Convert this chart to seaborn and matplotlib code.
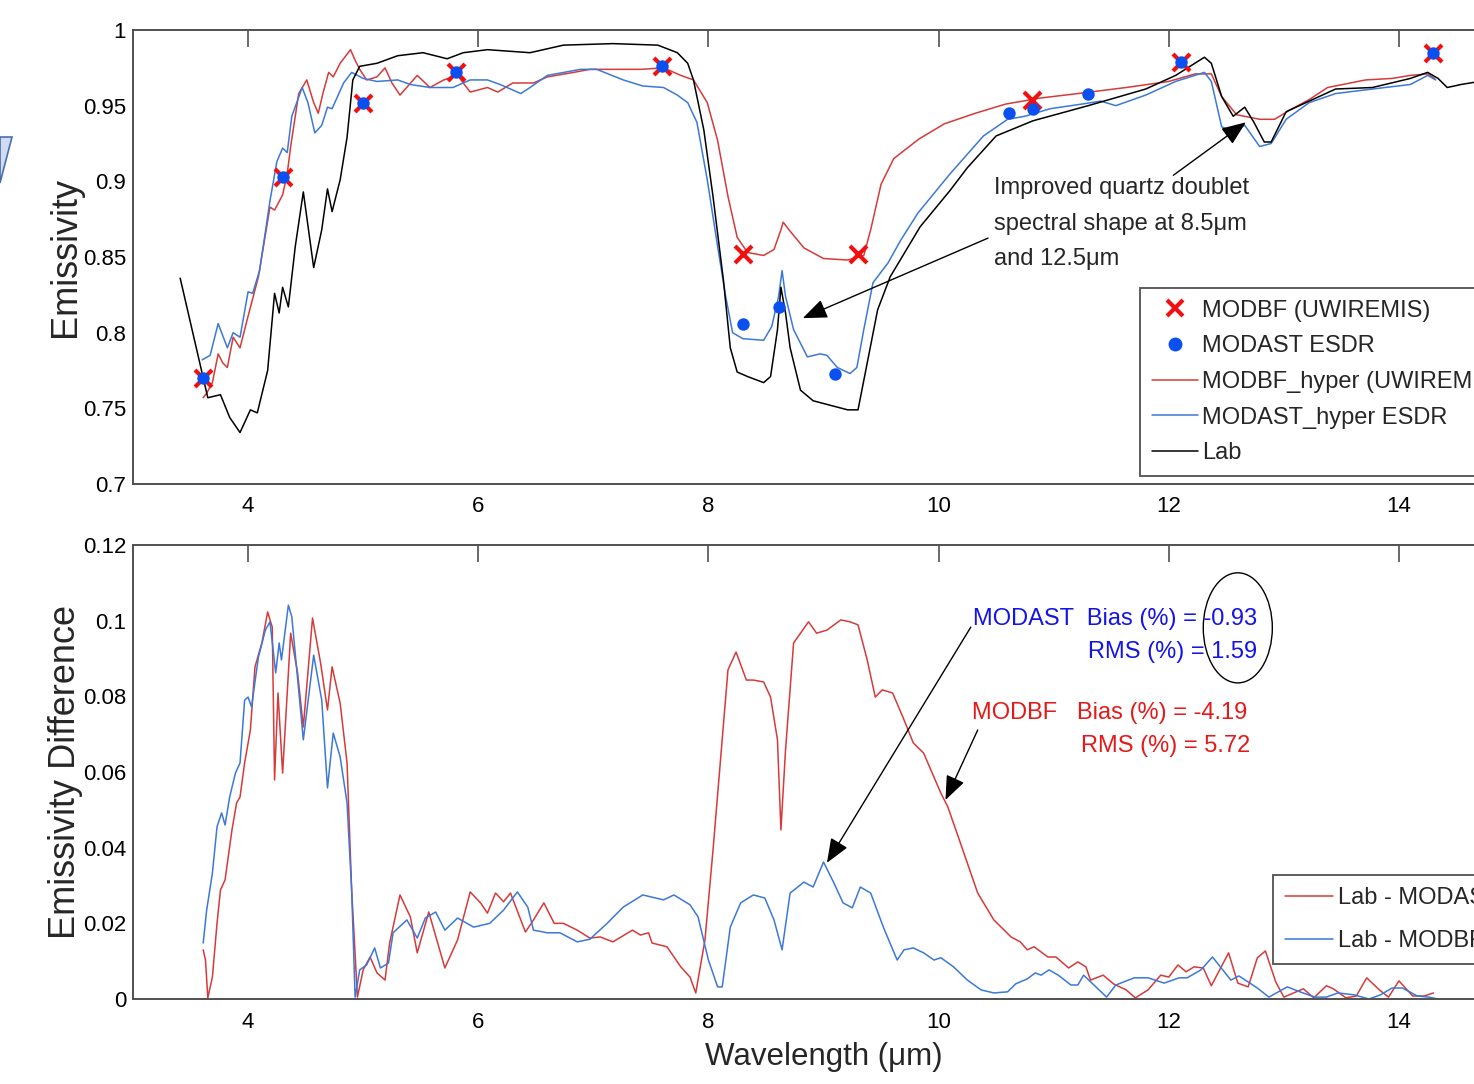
#!/usr/bin/env python3
"""Lab vs MODIS-derived hyperspectral emissivity, with the emissivity differences below."""

import matplotlib
matplotlib.use("Agg")
import matplotlib.pyplot as plt
import seaborn as sns
from matplotlib import font_manager
from matplotlib.lines import Line2D
from matplotlib.patches import Ellipse, Polygon

# ---- data -------------------------------------------------------------------
LAB_WL = [3.41, 3.65, 3.76, 3.84, 3.93, 4.02, 4.08, 4.17, 4.23, 4.27, 4.30, 4.35, 4.41,
          4.48, 4.57, 4.64, 4.69, 4.73, 4.80, 4.86, 4.91, 4.97, 5.12, 5.30, 5.52, 5.73,
          5.87, 6.08, 6.45, 6.74, 7.17, 7.56, 7.73, 7.82, 7.87, 7.96, 8.04, 8.13, 8.19,
          8.25, 8.34, 8.48, 8.54, 8.60, 8.63, 8.67, 8.71, 8.80, 8.91, 9.06, 9.21, 9.30,
          9.38, 9.47, 9.58, 9.84, 10.10, 10.25, 10.50, 10.82, 11.30, 11.80, 12.06, 12.31,
          12.37, 12.46, 12.56, 12.66, 12.74, 12.83, 12.89, 13.02, 13.22, 13.45, 13.77,
          14.10, 14.25, 14.34, 14.42, 14.54, 14.70]
LAB_EMIS = [0.836, 0.757, 0.759, 0.744, 0.734, 0.749, 0.747, 0.775, 0.826, 0.813, 0.830,
            0.817, 0.857, 0.893, 0.843, 0.868, 0.895, 0.880, 0.901, 0.929, 0.967, 0.976,
            0.978, 0.983, 0.985, 0.981, 0.985, 0.987, 0.985, 0.990, 0.991, 0.990, 0.985,
            0.978, 0.967, 0.934, 0.890, 0.835, 0.790, 0.774, 0.771, 0.767, 0.771, 0.802,
            0.830, 0.813, 0.790, 0.762, 0.755, 0.752, 0.749, 0.749, 0.780, 0.815, 0.837,
            0.870, 0.894, 0.909, 0.930, 0.940, 0.950, 0.961, 0.970, 0.982, 0.978, 0.956,
            0.943, 0.949, 0.939, 0.926, 0.926, 0.946, 0.953, 0.961, 0.962, 0.968, 0.972,
            0.968, 0.962, 0.964, 0.966]

MODBF_HYPER_WL = [3.61, 3.64, 3.69, 3.74, 3.78, 3.82, 3.87, 3.93, 3.99, 4.09, 4.19, 4.23,
                  4.30, 4.34, 4.37, 4.44, 4.51, 4.57, 4.61, 4.65, 4.70, 4.74, 4.80, 4.89,
                  4.93, 4.97, 5.03, 5.12, 5.19, 5.25, 5.32, 5.47, 5.58, 5.70, 5.82, 5.93,
                  6.08, 6.17, 6.30, 6.48, 6.60, 6.83, 6.97, 7.17, 7.41, 7.61, 7.76, 7.87,
                  7.99, 8.08, 8.17, 8.25, 8.34, 8.48, 8.57, 8.63, 8.65, 8.70, 8.83, 9.00,
                  9.21, 9.35, 9.41, 9.50, 9.61, 9.83, 10.05, 10.32, 10.58, 10.88, 11.21,
                  11.63, 12.00, 12.23, 12.37, 12.46, 12.59, 12.79, 12.92, 13.05, 13.22,
                  13.38, 13.71, 13.94, 14.10, 14.25, 14.31]
MODBF_HYPER_EMIS = [0.757, 0.760, 0.767, 0.786, 0.780, 0.777, 0.797, 0.790, 0.808, 0.837,
                    0.883, 0.881, 0.891, 0.905, 0.923, 0.958, 0.967, 0.952, 0.945, 0.958,
                    0.972, 0.969, 0.978, 0.987, 0.980, 0.974, 0.967, 0.969, 0.975, 0.965,
                    0.957, 0.970, 0.962, 0.967, 0.970, 0.959, 0.962, 0.959, 0.965, 0.965,
                    0.969, 0.972, 0.974, 0.974, 0.974, 0.975, 0.970, 0.967, 0.952, 0.927,
                    0.890, 0.863, 0.853, 0.851, 0.855, 0.868, 0.873, 0.868, 0.856, 0.849,
                    0.848, 0.851, 0.868, 0.898, 0.915, 0.928, 0.938, 0.945, 0.951, 0.955,
                    0.958, 0.962, 0.966, 0.971, 0.971, 0.956, 0.944, 0.941, 0.941, 0.947,
                    0.954, 0.962, 0.967, 0.968, 0.970, 0.971, 0.968]

MODAST_HYPER_WL = [3.60, 3.67, 3.74, 3.82, 3.87, 3.93, 4.00, 4.04, 4.10, 4.19, 4.25, 4.30,
                   4.34, 4.38, 4.47, 4.52, 4.58, 4.64, 4.69, 4.73, 4.83, 4.90, 5.00, 5.12,
                   5.30, 5.41, 5.58, 5.78, 5.93, 6.08, 6.19, 6.37, 6.45, 6.60, 6.89, 7.03,
                   7.26, 7.43, 7.61, 7.73, 7.82, 7.90, 7.99, 8.08, 8.15, 8.21, 8.30, 8.48,
                   8.55, 8.61, 8.64, 8.67, 8.74, 8.86, 8.97, 9.03, 9.12, 9.23, 9.29, 9.35,
                   9.43, 9.56, 9.67, 9.82, 10.10, 10.39, 10.60, 10.75, 10.97, 11.24, 11.41,
                   11.54, 11.80, 12.06, 12.31, 12.37, 12.46, 12.56, 12.66, 12.79, 12.89,
                   13.02, 13.22, 13.45, 13.77, 14.10, 14.25, 14.32]
MODAST_HYPER_EMIS = [0.782, 0.785, 0.806, 0.790, 0.800, 0.797, 0.827, 0.826, 0.841, 0.887,
                     0.913, 0.922, 0.919, 0.943, 0.962, 0.952, 0.932, 0.937, 0.949, 0.948,
                     0.965, 0.972, 0.968, 0.966, 0.967, 0.964, 0.962, 0.962, 0.967, 0.967,
                     0.964, 0.958, 0.962, 0.970, 0.974, 0.974, 0.967, 0.963, 0.962, 0.957,
                     0.952, 0.939, 0.901, 0.857, 0.824, 0.800, 0.796, 0.795, 0.804, 0.824,
                     0.841, 0.824, 0.802, 0.784, 0.786, 0.785, 0.777, 0.773, 0.777, 0.802,
                     0.833, 0.846, 0.861, 0.879, 0.905, 0.930, 0.941, 0.943, 0.948, 0.951,
                     0.953, 0.950, 0.957, 0.966, 0.972, 0.966, 0.936, 0.933, 0.937, 0.923,
                     0.925, 0.941, 0.952, 0.958, 0.961, 0.964, 0.970, 0.967]

MODBF_WL = [3.61, 4.30, 5.00, 5.81, 7.60, 8.30, 9.30, 10.81, 12.11, 14.30]
MODBF_EMIS = [0.770, 0.903, 0.952, 0.972, 0.976, 0.852, 0.852, 0.954, 0.979, 0.985]
MODAST_WL = [3.61, 4.30, 5.00, 5.81, 7.60, 8.30, 8.61, 9.10, 10.61, 10.82, 11.30, 12.11, 14.30]
MODAST_EMIS = [0.770, 0.903, 0.952, 0.972, 0.976, 0.806, 0.817, 0.773, 0.945, 0.948, 0.958,
               0.979, 0.985]

DIFF_RED_WL = [3.61, 3.63, 3.65, 3.69, 3.73, 3.76, 3.80, 3.86, 3.90, 3.93, 3.97, 4.02, 4.06,
               4.12, 4.17, 4.21, 4.23, 4.26, 4.30, 4.37, 4.43, 4.48, 4.56, 4.63, 4.69, 4.73,
               4.80, 4.86, 4.90, 4.95, 5.00, 5.06, 5.12, 5.19, 5.23, 5.32, 5.41, 5.47, 5.57,
               5.64, 5.71, 5.82, 5.93, 6.02, 6.08, 6.15, 6.22, 6.28, 6.41, 6.48, 6.57, 6.66,
               6.74, 6.86, 6.97, 7.06, 7.17, 7.34, 7.41, 7.48, 7.51, 7.64, 7.76, 7.84, 7.89,
               7.97, 8.04, 8.10, 8.17, 8.24, 8.33, 8.39, 8.48, 8.54, 8.60, 8.63, 8.67, 8.74,
               8.87, 8.94, 9.03, 9.15, 9.23, 9.30, 9.38, 9.45, 9.51, 9.60, 9.69, 9.78, 9.87,
               10.02, 10.08, 10.19, 10.34, 10.48, 10.63, 10.71, 10.77, 10.83, 10.95, 11.02,
               11.13, 11.21, 11.28, 11.32, 11.43, 11.52, 11.63, 11.71, 11.82, 11.93, 12.00,
               12.08, 12.15, 12.22, 12.30, 12.37, 12.52, 12.60, 12.69, 12.77, 12.84, 12.93,
               13.00, 13.17, 13.26, 13.37, 13.43, 13.54, 13.63, 13.72, 13.83, 13.91, 14.00,
               14.12, 14.22, 14.30]
DIFF_RED = [0.0130, 0.0103, 0.0003, 0.0058, 0.0200, 0.0288, 0.0315, 0.0447, 0.0518, 0.0534,
            0.0624, 0.0711, 0.0878, 0.0941, 0.1023, 0.0983, 0.0579, 0.0809, 0.0597, 0.0967,
            0.0862, 0.0719, 0.1007, 0.0888, 0.0764, 0.0878, 0.0782, 0.0624, 0.0288, 0.0005,
            0.0077, 0.0111, 0.0069, 0.0050, 0.0148, 0.0275, 0.0217, 0.0122, 0.0230, 0.0156,
            0.0082, 0.0156, 0.0283, 0.0254, 0.0227, 0.0280, 0.0257, 0.0280, 0.0177, 0.0209,
            0.0254, 0.0200, 0.0200, 0.0182, 0.0161, 0.0164, 0.0151, 0.0182, 0.0169, 0.0175,
            0.0148, 0.0138, 0.0085, 0.0058, 0.0016, 0.0156, 0.0394, 0.0613, 0.0870, 0.0917,
            0.0843, 0.0843, 0.0838, 0.0798, 0.0685, 0.0447, 0.0658, 0.0941, 0.0997, 0.0967,
            0.0975, 0.1002, 0.0997, 0.0989, 0.0896, 0.0798, 0.0817, 0.0809, 0.0745, 0.0677,
            0.0650, 0.0544, 0.0508, 0.0412, 0.0280, 0.0209, 0.0164, 0.0151, 0.0130, 0.0138,
            0.0111, 0.0111, 0.0082, 0.0098, 0.0085, 0.0050, 0.0063, 0.0040, 0.0024, 0.0003,
            0.0024, 0.0063, 0.0058, 0.0090, 0.0072, 0.0085, 0.0082, 0.0035, 0.0122, 0.0042,
            0.0032, 0.0109, 0.0127, 0.0045, 0.0005, 0.0027, 0.0003, 0.0035, 0.0027, 0.0003,
            0.0008, 0.0056, 0.0024, 0.0005, 0.0048, 0.0008, 0.0008, 0.0016]

DIFF_BLUE_WL = [3.61, 3.64, 3.69, 3.73, 3.77, 3.80, 3.84, 3.89, 3.93, 3.97, 4.00, 4.03, 4.09,
                4.15, 4.19, 4.24, 4.27, 4.29, 4.35, 4.38, 4.48, 4.57, 4.64, 4.69, 4.74, 4.80,
                4.86, 4.90, 4.93, 4.97, 5.03, 5.10, 5.15, 5.22, 5.26, 5.38, 5.47, 5.54, 5.63,
                5.71, 5.82, 5.96, 6.10, 6.22, 6.34, 6.43, 6.48, 6.60, 6.71, 6.86, 6.97, 7.12,
                7.26, 7.43, 7.61, 7.70, 7.84, 7.91, 8.00, 8.08, 8.12, 8.19, 8.28, 8.39, 8.49,
                8.57, 8.64, 8.71, 8.83, 8.91, 9.00, 9.09, 9.17, 9.25, 9.32, 9.41, 9.52, 9.64,
                9.70, 9.78, 9.87, 9.96, 10.02, 10.13, 10.25, 10.37, 10.48, 10.60, 10.67, 10.77,
                10.84, 10.89, 10.96, 11.04, 11.15, 11.21, 11.26, 11.35, 11.46, 11.54, 11.70,
                11.82, 11.96, 12.09, 12.16, 12.28, 12.38, 12.54, 12.61, 12.77, 12.87, 13.03,
                13.14, 13.27, 13.37, 13.47, 13.61, 13.74, 13.84, 13.94, 14.03, 14.16, 14.26,
                14.34]
DIFF_BLUE = [0.0148, 0.0235, 0.0333, 0.0455, 0.0492, 0.0460, 0.0534, 0.0597, 0.0624, 0.0790,
             0.0798, 0.0772, 0.0904, 0.0975, 0.0997, 0.0862, 0.0941, 0.0896, 0.1041, 0.1010,
             0.0685, 0.0909, 0.0790, 0.0558, 0.0703, 0.0640, 0.0518, 0.0288, 0.0005, 0.0077,
             0.0090, 0.0135, 0.0082, 0.0095, 0.0175, 0.0209, 0.0161, 0.0214, 0.0230, 0.0182,
             0.0214, 0.0190, 0.0200, 0.0235, 0.0283, 0.0243, 0.0182, 0.0175, 0.0175, 0.0151,
             0.0158, 0.0200, 0.0243, 0.0275, 0.0262, 0.0275, 0.0249, 0.0217, 0.0103, 0.0032,
             0.0032, 0.0190, 0.0254, 0.0275, 0.0267, 0.0209, 0.0130, 0.0280, 0.0309, 0.0296,
             0.0362, 0.0307, 0.0254, 0.0241, 0.0296, 0.0280, 0.0190, 0.0103, 0.0130, 0.0135,
             0.0122, 0.0103, 0.0109, 0.0085, 0.0050, 0.0024, 0.0016, 0.0019, 0.0040, 0.0053,
             0.0069, 0.0063, 0.0077, 0.0063, 0.0037, 0.0037, 0.0063, 0.0037, 0.0005, 0.0037,
             0.0056, 0.0056, 0.0042, 0.0056, 0.0056, 0.0077, 0.0111, 0.0050, 0.0061, 0.0029,
             0.0005, 0.0032, 0.0019, 0.0005, 0.0005, 0.0016, 0.0011, 0.0000, 0.0011, 0.0029,
             0.0029, 0.0008, 0.0005, 0.0000]

TOP_LEGEND = ["MODBF (UWIREMIS)", "MODAST ESDR", "MODBF_hyper (UWIREMIS)",
              "MODAST_hyper ESDR", "Lab"]
BOTTOM_LEGEND = ["Lab - MODAST", "Lab - MODBF"]

# ---- style ------------------------------------------------------------------
RED_LINE = "#d63a3a"
BLUE_LINE = "#3c78d8"
RED_MARK = "#f01010"
BLUE_MARK = "#0a4ff0"
TEXT_BLUE = "#1414e6"
TEXT_RED = "#e41a1a"
AXIS_GREY = "#505050"

W_PX, H_PX = 1474, 1084
TEXT_SIZE = 17

sns.set_theme(style="white")
names = {f.name for f in font_manager.fontManager.ttflist}
NARROW = "Liberation Sans Narrow" if "Liberation Sans Narrow" in names else "Liberation Sans"
plt.rcParams["font.family"] = [NARROW, "DejaVu Sans"]


def px_box(left, top, right, bottom):
    return [left / W_PX, 1 - bottom / H_PX, (right - left) / W_PX, (bottom - top) / H_PX]


def style_axes(ax, ylim, yticks, ylabel):
    ax.set_xlim(3, 15)
    ax.set_ylim(*ylim)
    ax.set_xticks([4, 6, 8, 10, 12, 14])
    ax.set_yticks(yticks)
    ax.set_yticklabels([f"{v:g}" for v in yticks])
    ax.tick_params(direction="in", length=12, width=1.2, color=AXIS_GREY,
                   top=True, right=True, labelsize=16, pad=9, labelcolor="black")
    ax.tick_params(axis="y", pad=5)
    for spine in ax.spines.values():
        spine.set_color(AXIS_GREY)
        spine.set_linewidth(1.4)
    ax.set_ylabel(ylabel, fontsize=26, family="Liberation Sans")
    ax.yaxis.set_label_coords(-0.036, 0.5)
    ax.set_xlabel("")


def add_legend(ax, handles, labels, anchor, spacing, handlelength):
    leg = ax.legend(handles, labels, loc="upper left", bbox_to_anchor=anchor,
                    fontsize=TEXT_SIZE, frameon=True, fancybox=False, framealpha=1,
                    edgecolor=AXIS_GREY, handlelength=handlelength, handletextpad=0.2,
                    labelspacing=spacing, borderpad=0.5, borderaxespad=0)
    leg.get_frame().set_linewidth(1.3)
    return leg


fig = plt.figure(figsize=(W_PX / 100, H_PX / 100), dpi=100)
ax_top = fig.add_axes(px_box(133, 30, 1514, 484))
ax_bot = fig.add_axes(px_box(133, 545, 1514, 999))

arrow = dict(arrowstyle="-|>,head_length=0.75,head_width=0.3", color="black", lw=1,
             mutation_scale=20, shrinkA=0, shrinkB=0)

# ---- top panel --------------------------------------------------------------
sns.lineplot(x=MODBF_HYPER_WL, y=MODBF_HYPER_EMIS, ax=ax_top, color=RED_LINE, lw=1.1,
             estimator=None, sort=False)
sns.lineplot(x=MODAST_HYPER_WL, y=MODAST_HYPER_EMIS, ax=ax_top, color=BLUE_LINE, lw=1.1,
             estimator=None, sort=False)
sns.lineplot(x=LAB_WL, y=LAB_EMIS, ax=ax_top, color="black", lw=1.1,
             estimator=None, sort=False)
sns.scatterplot(x=MODBF_WL, y=MODBF_EMIS, ax=ax_top, marker="x", s=150, color=RED_MARK,
                linewidth=3, zorder=4)
sns.scatterplot(x=MODAST_WL, y=MODAST_EMIS, ax=ax_top, marker="o", s=80, color=BLUE_MARK,
                edgecolor=BLUE_MARK, linewidth=0, zorder=5)
style_axes(ax_top, (0.7, 1.0), [0.7, 0.75, 0.8, 0.85, 0.9, 0.95, 1.0], "Emissivity")

handles = [
    Line2D([], [], ls="", marker="x", ms=12, mew=3, color=RED_MARK),
    Line2D([], [], ls="", marker="o", ms=9, color=BLUE_MARK),
    Line2D([], [], color=RED_LINE, lw=1.1),
    Line2D([], [], color=BLUE_LINE, lw=1.1),
    Line2D([], [], color="black", lw=1.1),
]
add_legend(ax_top, handles, TOP_LEGEND, (0.729, 0.432), 0.58, 1.95)

ax_top.text(10.48, 0.9027, "Improved quartz doublet\nspectral shape at 8.5\u03bcm\nand 12.5\u03bcm",
            ha="left", va="top", fontsize=TEXT_SIZE, linespacing=1.78)
ax_top.annotate("", xy=(8.82, 0.8096), xytext=(10.43, 0.8625), arrowprops=arrow)
ax_top.annotate("", xy=(12.67, 0.939), xytext=(12.04, 0.904), arrowprops=arrow)

# ---- bottom panel -----------------------------------------------------------
sns.lineplot(x=DIFF_RED_WL, y=DIFF_RED, ax=ax_bot, color=RED_LINE, lw=1.1,
             estimator=None, sort=False)
sns.lineplot(x=DIFF_BLUE_WL, y=DIFF_BLUE, ax=ax_bot, color=BLUE_LINE, lw=1.1,
             estimator=None, sort=False)
style_axes(ax_bot, (0, 0.12), [0, 0.02, 0.04, 0.06, 0.08, 0.1, 0.12],
           "Emissivity Difference")
ax_bot.set_xlabel("Wavelength (\u03bcm)", fontsize=22.5, labelpad=7)

handles = [Line2D([], [], color=RED_LINE, lw=1.1), Line2D([], [], color=BLUE_LINE, lw=1.1)]
add_legend(ax_bot, handles, BOTTOM_LEGEND, (0.8255, 0.273), 0.9, 2.05)

ax_bot.text(12.77, 0.1004, "MODAST  Bias (%) = -0.93", ha="right", va="center",
            fontsize=TEXT_SIZE, color=TEXT_BLUE)
ax_bot.text(12.77, 0.0917, "RMS (%) = 1.59", ha="right", va="center",
            fontsize=TEXT_SIZE, color=TEXT_BLUE)
ax_bot.text(12.68, 0.0756, "MODBF   Bias (%) = -4.19", ha="right", va="center",
            fontsize=TEXT_SIZE, color=TEXT_RED)
ax_bot.text(12.71, 0.0669, "RMS (%) = 5.72", ha="right", va="center",
            fontsize=TEXT_SIZE, color=TEXT_RED)
ax_bot.add_patch(Ellipse((12.60, 0.0981), 0.6, 0.0291, fill=False, edgecolor="black", lw=1))
ax_bot.annotate("", xy=(9.03, 0.0360), xytext=(10.28, 0.0983), arrowprops=arrow)
ax_bot.annotate("", xy=(10.06, 0.0526), xytext=(10.34, 0.0711), arrowprops=arrow)

# bit of slide decoration at the left edge
fig.patches.append(Polygon([(0, 1 - 137 / H_PX), (12 / W_PX, 1 - 137 / H_PX),
                            (0, 1 - 183 / H_PX)], closed=True, transform=fig.transFigure,
                           facecolor="#cfdcf2", edgecolor="#4b6eb0", lw=1.2))

fig.savefig("out.png", dpi=100)
plt.close(fig)
